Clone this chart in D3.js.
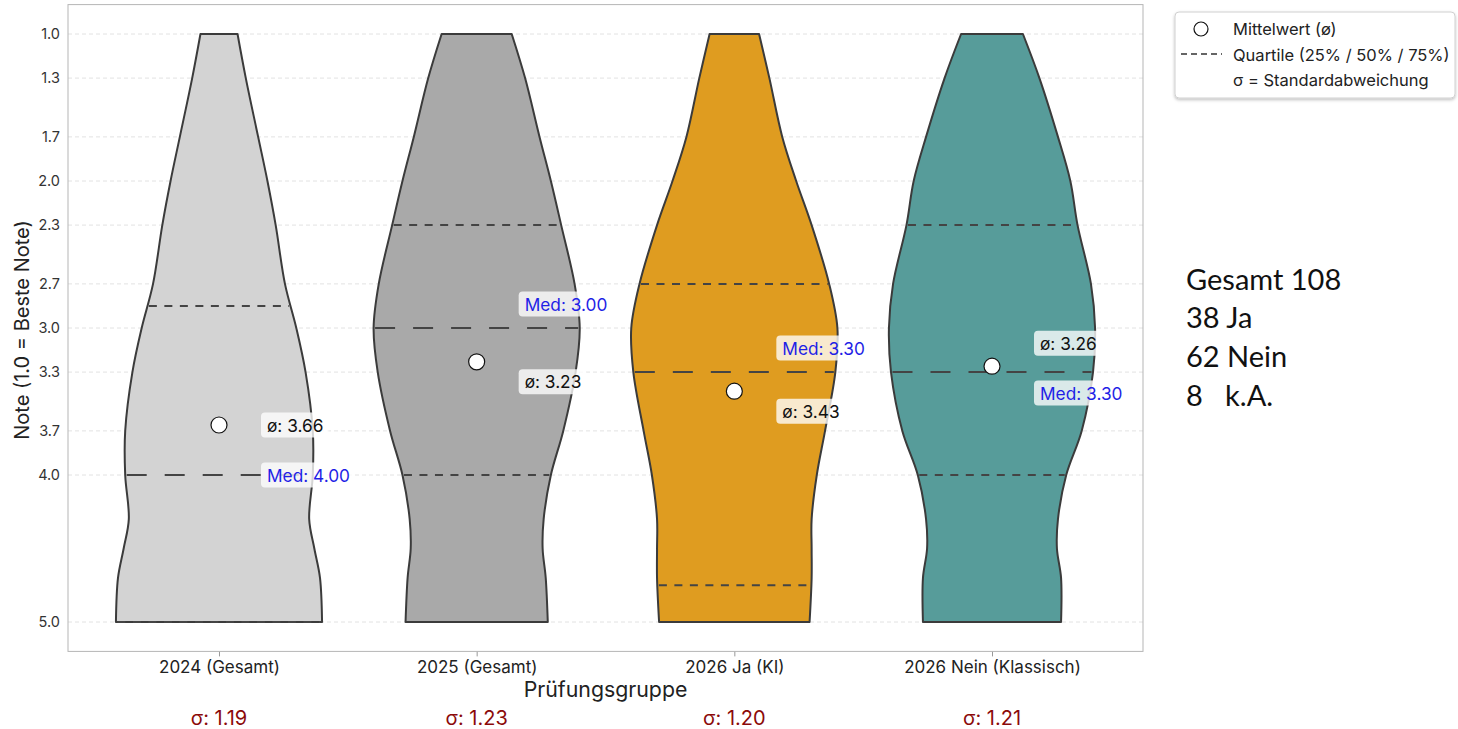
<!DOCTYPE html>
<html><head><meta charset="utf-8">
<script src="https://cdn.jsdelivr.net/npm/d3@7"></script>
<style>
html,body{margin:0;padding:0;background:#fff;}
svg{display:block;font-family:Inter,"Open Sans",sans-serif;}
</style></head>
<body>
<svg id="chart" width="1458" height="729"></svg>
<script>
// ---------- data ----------
const categories = ["2024 (Gesamt)", "2025 (Gesamt)", "2026 Ja (KI)", "2026 Nein (Klassisch)"];
const gradeGrid = [1.0, 1.3, 1.7, 2.0, 2.3, 2.7, 3.0, 3.3, 3.7, 4.0, 4.3, 4.5, 4.7, 5.0];
const density2024 = [18, 26, 38, 47, 55, 64, 75, 84, 91, 91, 87.5, 92.5, 98, 100];
const density2025 = [34, 47, 61, 72, 82, 95, 100, 96, 84, 72, 65, 64, 67, 69];
const density2026Ja = [24, 34, 46.5, 60, 75, 92, 100, 98, 88, 80, 75, 75, 75, 73];
const density2026Nein = [30, 46, 64, 76, 83, 96, 100, 98, 87, 72, 64, 63, 67, 67];
const quartile25 = [2.85, 2.3, 2.7, 2.3];
const medians = [4.0, 3.0, 3.3, 3.3];
const quartile75 = [5.0, 4.0, 4.75, 4.0];
const means = [3.66, 3.23, 3.43, 3.26];
const sigmas = [1.19, 1.23, 1.20, 1.21];
const yTicks = [1.0, 1.3, 1.7, 2.0, 2.3, 2.7, 3.0, 3.3, 3.7, 4.0, 5.0];
const colors = ["#d3d3d3", "#a9a9a9", "#df9c20", "#579c9a"];
const countLines = ["Gesamt 108", "38 Ja", "62 Nein", "8   k.A."];
const legendItems = ["Mittelwert (ø)", "Quartile (25% / 50% / 75%)", "σ = Standardabweichung"];

const densities = [density2024, density2025, density2026Ja, density2026Nein];

// ---------- layout ----------
const svg = d3.select("#chart");
const plot = {left: 68, right: 1143, top: 4.6, bottom: 651.4};

const y = d3.scaleLinear().domain([0.8, 5.2]).range([plot.top, plot.bottom]);
const x = d3.scalePoint().domain(categories).range([plot.left, plot.right]).padding(0.586);
const halfMax = 0.4 * x.step();

// grid
const grid = svg.append("g");
grid.selectAll("line").data(yTicks).join("line")
  .attr("x1", plot.left).attr("x2", plot.right)
  .attr("y1", d => y(d)).attr("y2", d => y(d))
  .attr("stroke", "#e2e2e2").attr("stroke-width", 1).attr("stroke-dasharray", "4,3");

// y axis labels
const yAxis = d3.axisLeft(y).tickValues(yTicks).tickFormat(d3.format(".1f")).tickSize(0).tickPadding(8);
const yg = svg.append("g").attr("transform", `translate(${plot.left},0)`).call(yAxis);
yg.select(".domain").remove();
yg.selectAll("text").attr("font-size", 14.5).attr("fill", "#333").attr("font-family", "Inter, sans-serif");

// x axis
const xAxis = d3.axisBottom(x).tickSize(5).tickPadding(5);
const xg = svg.append("g").attr("transform", `translate(0,${plot.bottom})`).call(xAxis);
xg.select(".domain").remove();
xg.selectAll("line").attr("stroke", "#999");
xg.selectAll("text").attr("font-size", 17).attr("fill", "#222").attr("font-family", "Inter, sans-serif");

// frame
svg.append("rect").attr("x", plot.left).attr("y", plot.top)
  .attr("width", plot.right - plot.left).attr("height", plot.bottom - plot.top)
  .attr("fill", "none").attr("stroke", "#b5b5b5").attr("stroke-width", 1);

// violins
function widthAt(dens, g) {
  const mx = d3.max(dens);
  const i = d3.bisectLeft(gradeGrid, g);
  if (i <= 0) return dens[0] / mx;
  if (i >= gradeGrid.length) return dens[dens.length - 1] / mx;
  const g0 = gradeGrid[i - 1], g1 = gradeGrid[i];
  const t = (g - g0) / (g1 - g0);
  return (dens[i - 1] + t * (dens[i] - dens[i - 1])) / mx;
}

categories.forEach((cat, k) => {
  const cx = x(cat);
  const dens = densities[k];
  const mx = d3.max(dens);
  const pts = gradeGrid.map((g, i) => ({g, w: dens[i] / mx * halfMax}));
  const area = d3.area()
    .y(d => y(d.g))
    .x0(d => cx - d.w)
    .x1(d => cx + d.w)
    .curve(d3.curveCatmullRom.alpha(0.5));
  const gv = svg.append("g");
  gv.append("path").attr("d", area(pts))
    .attr("fill", colors[k]).attr("stroke", "#3b3b3b").attr("stroke-width", 2)
    .attr("stroke-linejoin", "round");

  const qs = [
    {v: quartile25[k], dash: "8,7.5"},
    {v: medians[k], dash: "20,18"},
    {v: quartile75[k], dash: "8,7.5"}
  ];
  qs.forEach(q => {
    const w = widthAt(dens, q.v) * halfMax - 1.5;
    gv.append("line")
      .attr("x1", cx - w).attr("x2", cx + w)
      .attr("y1", y(q.v)).attr("y2", y(q.v))
      .attr("stroke", "#444").attr("stroke-width", 2)
      .attr("stroke-dasharray", q.dash);
  });

  // mean marker
  gv.append("circle").attr("cx", cx).attr("cy", y(means[k])).attr("r", 8)
    .attr("fill", "#fff").attr("stroke", "#111").attr("stroke-width", 1.2);

  // labels
  let yMean = y(means[k]), yMed = y(medians[k]);
  if (Math.abs(yMean - yMed) < 40) {
    if (yMean < yMed) { yMean -= 23; yMed += 21; }
    else { yMed -= 24; yMean += 20; }
  }
  const labels = [
    {text: "ø: " + means[k].toFixed(2), yy: yMean, color: "#111"},
    {text: "Med: " + medians[k].toFixed(2), yy: yMed, color: "#1f1fe6"}
  ];
  labels.forEach(l => {
    const lg = svg.append("g");
    const t = lg.append("text").attr("x", cx + 48).attr("y", l.yy)
      .attr("dominant-baseline", "central")
      .attr("font-size", 17.3).attr("fill", l.color).text(l.text);
    const bb = t.node().getBBox();
    lg.insert("rect", "text").attr("x", bb.x - 6).attr("y", l.yy - 12.5)
      .attr("width", bb.width + 11).attr("height", 25).attr("rx", 4)
      .attr("fill", "#fff").attr("fill-opacity", 0.78);
  });

  // sigma label
  svg.append("text").attr("x", cx).attr("y", 718).attr("text-anchor", "middle")
    .attr("dominant-baseline", "central").attr("font-size", 20).attr("fill", "#8b0a0a")
    .text("σ: " + sigmas[k].toFixed(2));
});

// axis titles
svg.append("text").attr("x", (plot.left + plot.right) / 2).attr("y", 689)
  .attr("text-anchor", "middle").attr("dominant-baseline", "central")
  .attr("font-size", 21.3).attr("fill", "#222").text("Prüfungsgruppe");
svg.append("text").attr("transform", `translate(22,${(plot.top + plot.bottom) / 2 + 2}) rotate(-90)`)
  .attr("text-anchor", "middle").attr("dominant-baseline", "central")
  .attr("font-size", 20).attr("fill", "#222").text("Note (1.0 = Beste Note)");

// legend
const defs = svg.append("defs");
const f = defs.append("filter").attr("id", "sh").attr("x", "-10%").attr("y", "-10%").attr("width", "120%").attr("height", "140%");
f.append("feDropShadow").attr("dx", 0).attr("dy", 1.5).attr("stdDeviation", 1.5).attr("flood-color", "#000").attr("flood-opacity", 0.25);
const lg = svg.append("g");
lg.append("rect").attr("x", 1175).attr("y", 12).attr("width", 280).attr("height", 86).attr("rx", 4)
  .attr("fill", "#fff").attr("stroke", "#d0d0d0").attr("filter", "url(#sh)");
lg.append("circle").attr("cx", 1201).attr("cy", 29).attr("r", 7)
  .attr("fill", "#fff").attr("stroke", "#111").attr("stroke-width", 1.2);
lg.append("line").attr("x1", 1181).attr("x2", 1222).attr("y1", 54).attr("y2", 54)
  .attr("stroke", "#333").attr("stroke-width", 1.6).attr("stroke-dasharray", "6,4");
legendItems.forEach((t, i) => {
  lg.append("text").attr("x", 1233).attr("y", 29 + i * 25.5).attr("dominant-baseline", "central")
    .attr("font-size", 16.5).attr("fill", "#222").text(t);
});

// counts annotation
countLines.forEach((t, i) => {
  svg.append("text").attr("x", 1186).attr("y", 278 + i * 38.7).attr("dominant-baseline", "central")
    .attr("font-size", 29).attr("fill", "#111").attr("font-family", "Lato, 'Open Sans', sans-serif")
    .style("white-space", "pre").text(t);
});
</script>
</body></html>
